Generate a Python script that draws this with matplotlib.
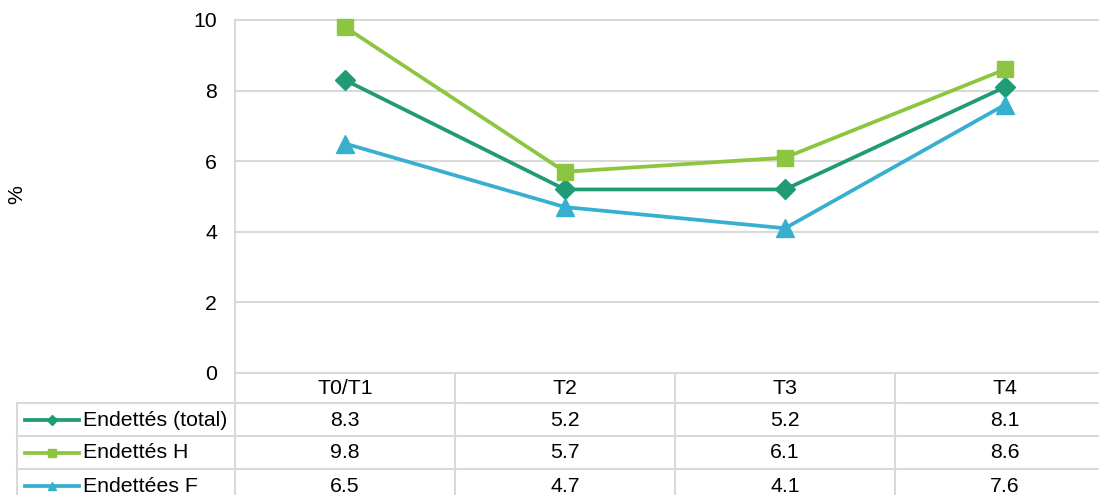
import matplotlib
matplotlib.use("Agg")
import matplotlib.pyplot as plt
from matplotlib.lines import Line2D

plt.rcParams['font.family'] = ['Liberation Sans', 'DejaVu Sans']

categories = ["T0/T1", "T2", "T3", "T4"]
series_names = ["Endettés (total)", "Endettés H", "Endettées F"]
total = [8.3, 5.2, 5.2, 8.1]
hommes = [9.8, 5.7, 6.1, 8.6]
femmes = [6.5, 4.7, 4.1, 7.6]
yticks = [0, 2, 4, 6, 8, 10]
ylabel = "%"

colors = ["#1f9b76", "#8cc540", "#37b0d0"]
markers = ["D", "s", "^"]
msizes = [10.5, 11, 13]
series = [total, hommes, femmes]

FS = 15.3
W, H = 1099, 495
DPI = 100
fig = plt.figure(figsize=(W / DPI, H / DPI), dpi=DPI)

# axes in pixel coordinates
L, R, T, B = 235, 1115, 20, 373
ax = fig.add_axes([L / W, 1 - B / H, (R - L) / W, (B - T) / H])
x = list(range(len(categories)))
ax.set_xlim(-0.5, len(categories) - 0.5)
ax.set_ylim(0, 10)
ax.set_yticks(yticks)
ax.set_yticklabels([str(v) for v in yticks], fontsize=FS)
ax.set_xticks([])
grid_c = "#d9d9d9"
for yv in yticks:
    ax.axhline(yv, color=grid_c, lw=1.5, zorder=0, clip_on=False)
for s in ["top", "right", "bottom"]:
    ax.spines[s].set_visible(False)
ax.spines["left"].set_color(grid_c)
ax.spines["left"].set_linewidth(1.5)
ax.tick_params(axis="y", length=0, pad=13, labelcolor="black")

for vals, c, m, ms in zip(series, colors, markers, msizes):
    ax.plot(x, vals, color=c, lw=2.7, marker=m, markersize=ms, zorder=3, clip_on=False)

fig.text(17 / W, 1 - 195 / H, ylabel, rotation=90, fontsize=FS, ha="center", va="center")

# Data table below axes
def fx(px):
    return px / W

def fy(py):
    return 1 - py / H

def hline(x0, x1, y):
    fig.add_artist(Line2D([fx(x0), fx(x1)], [fy(y), fy(y)], color=grid_c, lw=1.5, transform=fig.transFigure))

def vline(x0, y0, y1):
    fig.add_artist(Line2D([fx(x0), fx(x0)], [fy(y0), fy(y1)], color=grid_c, lw=1.5, transform=fig.transFigure))

def data_to_px(xv):
    return ax.transData.transform((xv, 0))[0]

header_top, header_bot = 373, 403
row_h = 33
n_rows = len(series)
row_bounds = [header_bot + i * row_h for i in range(n_rows + 1)]
table_left = 17
bottom = H + 10

for yb in row_bounds[:-1]:
    hline(table_left, W + 20, yb)
vline(table_left, header_bot, bottom)
bounds = [data_to_px(i - 0.5) for i in range(len(categories) + 1)]
for b in bounds:
    vline(b, header_top, bottom)

for i, cat in enumerate(categories):
    cx = data_to_px(i)
    fig.text(fx(cx), fy((header_top + header_bot) / 2 + 1), cat, ha="center", va="center", fontsize=FS)
    for r, vals in enumerate(series):
        cy = row_bounds[r] + row_h / 2 + 0.5
        fig.text(fx(cx), fy(cy), f"{vals[i]:.1f}", ha="center", va="center", fontsize=FS)

for r, (name, c, m) in enumerate(zip(series_names, colors, markers)):
    cy = row_bounds[r] + row_h / 2
    fig.add_artist(Line2D([fx(25), fx(79)], [fy(cy), fy(cy)], color=c, lw=2.7, transform=fig.transFigure))
    fig.add_artist(Line2D([fx(52)], [fy(cy)], color=c, marker=m, markersize=5.5, transform=fig.transFigure))
    fig.text(fx(83), fy(cy + 0.5), name, ha="left", va="center", fontsize=FS)

fig.savefig("out.png", dpi=DPI)
